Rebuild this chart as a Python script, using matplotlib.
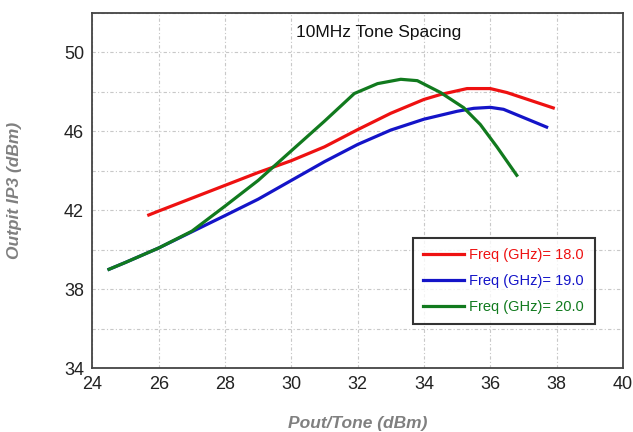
import matplotlib
matplotlib.use('Agg')
import matplotlib.pyplot as plt

plt.rcParams['font.family'] = ['Liberation Sans', 'DejaVu Sans']

# Freq = 18.0 GHz
x18 = [25.7, 26.0, 27.0, 28.0, 29.0, 30.0, 31.0, 32.0, 33.0, 34.0, 34.5, 35.3, 36.0, 36.5, 37.9]
y18 = [41.75, 41.95, 42.6, 43.25, 43.9, 44.5, 45.2, 46.07, 46.9, 47.6, 47.85, 48.15, 48.15, 47.95, 47.17]

# Freq = 19.0 GHz
x19 = [24.5, 25.0, 26.0, 27.0, 28.0, 29.0, 30.0, 31.0, 32.0, 33.0, 34.0, 35.0, 35.5, 36.0, 36.4, 37.7]
y19 = [39.0, 39.35, 40.08, 40.9, 41.72, 42.55, 43.5, 44.45, 45.32, 46.05, 46.6, 47.0, 47.15, 47.2, 47.1, 46.2]

# Freq = 20.0 GHz
x20 = [24.5, 25.0, 26.0, 27.0, 28.0, 29.0, 30.0, 31.0, 31.9, 32.6, 33.3, 33.8, 34.5, 35.2, 35.7, 36.2, 36.8]
y20 = [39.0, 39.35, 40.08, 40.93, 42.2, 43.5, 45.0, 46.5, 47.9, 48.4, 48.62, 48.55, 47.95, 47.18, 46.33, 45.2, 43.76]

xticks = [24, 26, 28, 30, 32, 34, 36, 38, 40]
ygrid = [34, 36, 38, 40, 42, 44, 46, 48, 50, 52]

fig = plt.figure(figsize=(6.33, 4.32), dpi=100)
ax = fig.add_axes([0.146, 0.148, 0.838, 0.823])

ax.plot(x18, y18, color='#ee1111', lw=2.3, label='Freq (GHz)= 18.0')
ax.plot(x19, y19, color='#1414c8', lw=2.3, label='Freq (GHz)= 19.0')
ax.plot(x20, y20, color='#117a1e', lw=2.3, label='Freq (GHz)= 20.0')

ax.set_xlim(24, 40)
ax.set_ylim(34, 52)
ax.set_xticks(xticks)
ax.set_yticks(ygrid)
ax.set_yticklabels([str(v) if (v - 34) % 4 == 0 else '' for v in ygrid])
ax.tick_params(length=0, labelsize=13, colors='#222222', pad=6)
ax.grid(True, color='#c8c8c8', linestyle=(0, (3, 2, 1, 2)), linewidth=0.8)

for s in ax.spines.values():
    s.set_color('#444444')
    s.set_linewidth(1.3)

ax.text(0.54, 0.943, '10MHz Tone Spacing', transform=ax.transAxes,
        ha='center', va='center', fontsize=12.5, color='#111111')

ax.set_xlabel('Pout/Tone (dBm)', fontsize=12.5, color='#808080',
              fontweight='bold', fontstyle='italic', labelpad=16)
ax.set_ylabel('Outpit IP3 (dBm)', fontsize=12.5, color='#808080',
              fontweight='bold', fontstyle='italic', labelpad=30)

leg = ax.legend(loc='lower left', bbox_to_anchor=(0.604, 0.124, 0.343, 0.25),
                mode='expand', fontsize=10.5, frameon=True, fancybox=False,
                handlelength=2.8, handletextpad=0.35, labelspacing=0.8,
                borderpad=0.7, borderaxespad=0)
leg.get_frame().set_edgecolor('black')
leg.get_frame().set_linewidth(1.5)
for line, text in zip(leg.get_lines(), leg.get_texts()):
    text.set_color(line.get_color())

fig.savefig('out.png', dpi=100)
